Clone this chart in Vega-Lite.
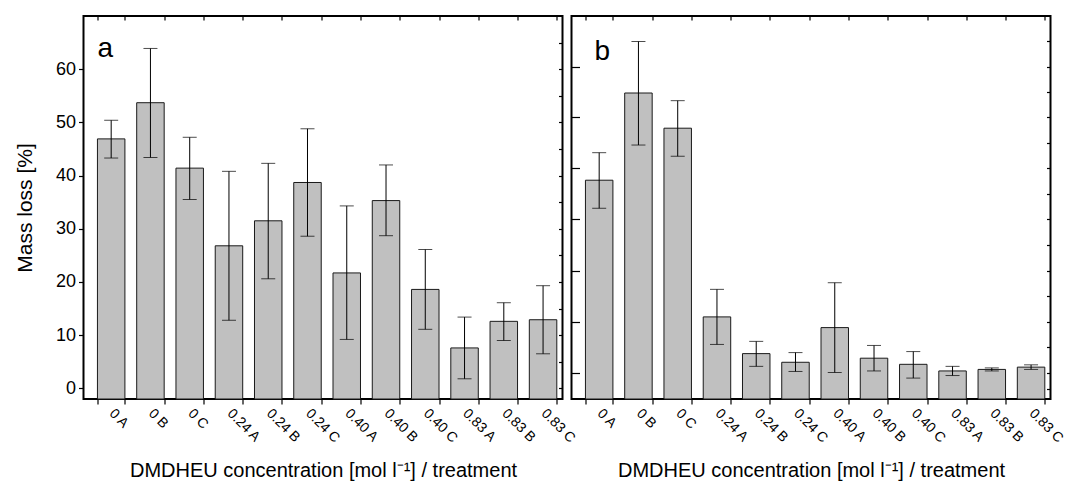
{
  "$schema": "https://vega.github.io/schema/vega-lite/v6.json",
  "padding": {"left": 12.5, "top": 14, "right": 0, "bottom": 0},
  "background": "#ffffff",
  "config": {
    "font": "Liberation Sans",
    "view": {"stroke": "#000000", "strokeWidth": 2},
    "axis": {"domain": false, "grid": false, "labelColor": "#000000", "titleColor": "#000000", "tickColor": "#000000", "labelFont": "Liberation Sans", "titleFont": "Liberation Sans", "titleFontWeight": "normal", "tickWidth": 1.2}
  },
  "datasets": {
    "a": [
      {"treatment": "0 A", "mass": 46.9, "lo": 43.3, "hi": 50.4},
      {"treatment": "0 B", "mass": 53.7, "lo": 43.4, "hi": 63.9},
      {"treatment": "0 C", "mass": 41.4, "lo": 35.5, "hi": 47.2},
      {"treatment": "0.24 A", "mass": 26.8, "lo": 12.8, "hi": 40.8},
      {"treatment": "0.24 B", "mass": 31.5, "lo": 20.6, "hi": 42.3},
      {"treatment": "0.24 C", "mass": 38.7, "lo": 28.6, "hi": 48.8},
      {"treatment": "0.40 A", "mass": 21.7, "lo": 9.2, "hi": 34.3},
      {"treatment": "0.40 B", "mass": 35.3, "lo": 28.7, "hi": 42.0},
      {"treatment": "0.40 C", "mass": 18.6, "lo": 11.1, "hi": 26.1},
      {"treatment": "0.83 A", "mass": 7.6, "lo": 1.8, "hi": 13.4},
      {"treatment": "0.83 B", "mass": 12.6, "lo": 9.0, "hi": 16.1},
      {"treatment": "0.83 C", "mass": 12.9, "lo": 6.5, "hi": 19.3}
    ],
    "b": [
      {"treatment": "0 A", "mass": 40.9, "lo": 35.4, "hi": 46.3},
      {"treatment": "0 B", "mass": 58.0, "lo": 47.8, "hi": 68.1},
      {"treatment": "0 C", "mass": 51.1, "lo": 45.6, "hi": 56.5},
      {"treatment": "0.24 A", "mass": 14.1, "lo": 8.7, "hi": 19.5},
      {"treatment": "0.24 B", "mass": 6.9, "lo": 4.4, "hi": 9.3},
      {"treatment": "0.24 C", "mass": 5.2, "lo": 3.4, "hi": 7.1},
      {"treatment": "0.40 A", "mass": 12.0, "lo": 3.2, "hi": 20.8},
      {"treatment": "0.40 B", "mass": 6.0, "lo": 3.5, "hi": 8.5},
      {"treatment": "0.40 C", "mass": 4.8, "lo": 2.1, "hi": 7.3},
      {"treatment": "0.83 A", "mass": 3.5, "lo": 2.6, "hi": 4.4},
      {"treatment": "0.83 B", "mass": 3.8, "lo": 3.5, "hi": 4.1},
      {"treatment": "0.83 C", "mass": 4.25, "lo": 3.8, "hi": 4.7}
    ],
    "labA": [{"treatment": "0 A", "mass": 62.3, "t": "a"}],
    "labB": [{"treatment": "0 A", "mass": 64.4, "t": "b"}]
  },
  "spacing": 9,
  "bounds": "flush",
  "hconcat": [
    {
      "width": 479,
      "height": 383,
      "layer": [
        {
          "data": {"name": "a"},
          "mark": {"type": "bar", "fill": "#c0c0c0", "stroke": "#1a1a1a", "strokeWidth": 1},
          "encoding": {
            "x": {"field": "treatment", "type": "nominal", "sort": null,
              "scale": {"paddingInner": 0.3, "paddingOuter": 0.25, "align": 0.71},
              "axis": {"orient": "bottom", "title": "DMDHEU concentration [mol l⁻¹] / treatment", "tickBand": "extent", "tickSize": 5, "labelAngle": 45, "labelAlign": "left", "labelBaseline": "middle", "labelFontSize": 14, "labelPadding": 7, "titleFontSize": 20, "titlePadding": 15}},
            "y": {"field": "mass", "type": "quantitative",
              "scale": {"domain": [-2, 70], "nice": false, "zero": false},
              "axis": {"orient": "left", "title": "Mass loss [%]", "values": [0, 10, 20, 30, 40, 50, 60], "tickSize": 5, "labelFontSize": 18, "labelPadding": 3, "titleFontSize": 21, "titlePadding": 20}},
            "y2": {"datum": -2}
          }
        },
        {
          "data": {"name": "a"},
          "mark": {"type": "rule", "color": "#000000", "strokeWidth": 1},
          "encoding": {
            "x": {"field": "treatment", "type": "nominal", "sort": null,
              "axis": {"orient": "top", "labels": false, "title": null, "tickBand": "extent", "tickSize": -4}},
            "y": {"field": "lo", "type": "quantitative",
              "axis": {"orient": "right", "labels": false, "title": null, "values": [0, 5, 10, 15, 20, 25, 30, 35, 40, 45, 50, 55, 60, 65], "tickSize": -4}},
            "y2": {"field": "hi"}
          }
        },
        {
          "data": {"name": "a"},
          "mark": {"type": "tick", "color": "#000000", "size": 14, "thickness": 1},
          "encoding": {
            "x": {"field": "treatment", "type": "nominal", "sort": null, "axis": null},
            "y": {"field": "lo", "type": "quantitative", "axis": null}
          }
        },
        {
          "data": {"name": "a"},
          "mark": {"type": "tick", "color": "#000000", "size": 14, "thickness": 1},
          "encoding": {
            "x": {"field": "treatment", "type": "nominal", "sort": null, "axis": null},
            "y": {"field": "hi", "type": "quantitative", "axis": null}
          }
        },
        {
          "data": {"name": "labA"},
          "mark": {"type": "text", "fontSize": 28, "align": "left", "baseline": "alphabetic", "color": "#000000"},
          "encoding": {
            "x": {"field": "treatment", "type": "nominal", "sort": null, "bandPosition": 0, "axis": null},
            "y": {"field": "mass", "type": "quantitative", "axis": null},
            "text": {"field": "t"}
          }
        }
      ],
      "resolve": {"axis": {"x": "independent", "y": "independent"}}
    },
    {
      "width": 479,
      "height": 383,
      "layer": [
        {
          "data": {"name": "b"},
          "mark": {"type": "bar", "fill": "#c0c0c0", "stroke": "#1a1a1a", "strokeWidth": 1},
          "encoding": {
            "x": {"field": "treatment", "type": "nominal", "sort": null,
              "scale": {"paddingInner": 0.3, "paddingOuter": 0.25, "align": 0.71},
              "axis": {"orient": "bottom", "title": "DMDHEU concentration [mol l⁻¹] / treatment", "tickBand": "extent", "tickSize": 5, "labelAngle": 45, "labelAlign": "left", "labelBaseline": "middle", "labelFontSize": 14, "labelPadding": 7, "titleFontSize": 20, "titlePadding": 15}},
            "y": {"field": "mass", "type": "quantitative",
              "scale": {"domain": [-2, 73.1], "nice": false, "zero": false},
              "axis": {"orient": "left", "labels": false, "title": null, "values": [3.1, 13.1, 23.1, 33.2, 43.2, 53.2, 63.1], "tickSize": -8}},
            "y2": {"datum": -2}
          }
        },
        {
          "data": {"name": "b"},
          "mark": {"type": "rule", "color": "#000000", "strokeWidth": 1},
          "encoding": {
            "x": {"field": "treatment", "type": "nominal", "sort": null,
              "axis": {"orient": "top", "labels": false, "title": null, "tickBand": "extent", "tickSize": -4}},
            "y": {"field": "lo", "type": "quantitative",
              "axis": {"orient": "right", "labels": false, "title": null, "values": [0, 3.1, 8.1, 13.1, 18.1, 23.1, 28.2, 33.2, 38.2, 43.2, 48.2, 53.2, 58.2, 63.1, 68.2], "tickSize": -4}},
            "y2": {"field": "hi"}
          }
        },
        {
          "data": {"name": "b"},
          "mark": {"type": "tick", "color": "#000000", "size": 14, "thickness": 1},
          "encoding": {
            "x": {"field": "treatment", "type": "nominal", "sort": null, "axis": null},
            "y": {"field": "lo", "type": "quantitative", "axis": null}
          }
        },
        {
          "data": {"name": "b"},
          "mark": {"type": "tick", "color": "#000000", "size": 14, "thickness": 1},
          "encoding": {
            "x": {"field": "treatment", "type": "nominal", "sort": null, "axis": null},
            "y": {"field": "hi", "type": "quantitative", "axis": null}
          }
        },
        {
          "data": {"name": "labB"},
          "mark": {"type": "text", "fontSize": 28, "align": "left", "baseline": "alphabetic", "color": "#000000"},
          "encoding": {
            "x": {"field": "treatment", "type": "nominal", "sort": null, "bandPosition": 0.33, "axis": null},
            "y": {"field": "mass", "type": "quantitative", "axis": null},
            "text": {"field": "t"}
          }
        }
      ],
      "resolve": {"axis": {"x": "independent", "y": "independent"}}
    }
  ]
}
